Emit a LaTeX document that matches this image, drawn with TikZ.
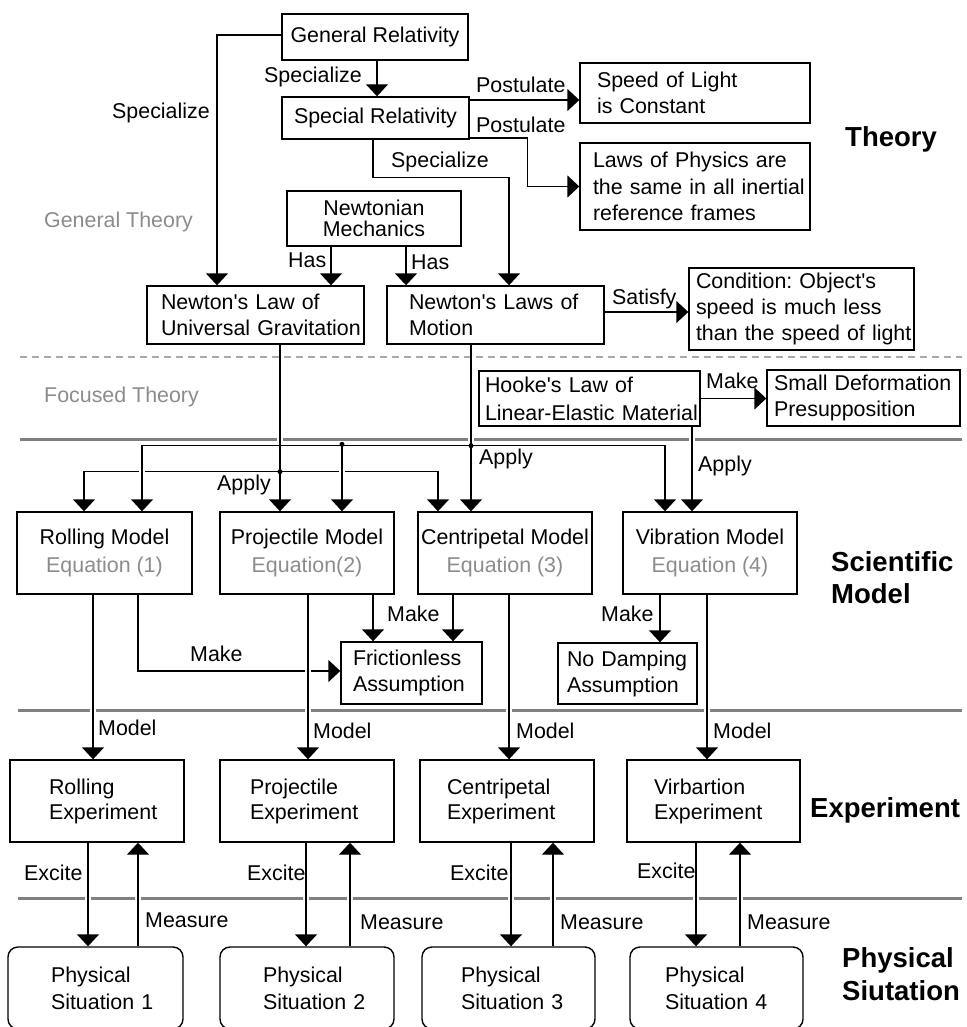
\documentclass[tikz,border=0pt]{standalone}
\usepackage{fontspec}
\setmainfont{Liberation Sans}
\usetikzlibrary{arrows.meta}
\definecolor{sepgray}{RGB}{128,128,128}
\definecolor{dashgray}{RGB}{170,170,170}
\definecolor{txtgray}{RGB}{140,140,140}
\newcommand\ml[1]{\mbox{#1}}
\newcommand\ap{\textquotesingle}
\frenchspacing
\begin{document}
\begin{tikzpicture}[x=1pt,y=-1pt,
  base/.style={font=\fontsize{21.4}{26}\selectfont, inner sep=0pt},
  box/.style={base, draw, line width=1.4pt},
  cbox/.style n args={2}{box, minimum width=#1, minimum height=#2, align=center},
  lbox/.style n args={3}{box, minimum width=#1, minimum height=#2, inner xsep=#3, text width=#1-2*#3, align=left},
  psbox/.style n args={3}{lbox={#1}{#2}{#3}, rounded corners=10pt},
  lbl/.style={base, anchor=west},
  glbl/.style={lbl, text=txtgray},
  tlbl/.style={anchor=west, inner sep=0pt, align=left, font=\fontsize{27.5}{32}\selectfont\bfseries},
  arr/.style={line width=1.4pt, -{Triangle[width=22pt,length=12pt]}},
  gap/.style={white, line width=6pt},
  sep/.style={sepgray, line width=3pt}
]
\fill[white] (0,0) rectangle (966,1027);
\useasboundingbox (0,0) rectangle (966,1027);

% ---------- boxes ----------
\node[cbox={186}{46}] (gr) at (375,37) {General Relativity};
\node[cbox={187}{42}] (sr) at (375.5,118) {Special Relativity};
\node[lbox={230}{60}{17}] (sol) at (695,93) {\ml{Speed of Light}\\\ml{is Constant}};
\node[lbox={230}{87}{13}, font=\fontsize{21.4}{26.5}\selectfont] (lop) at (695,186.5) {\ml{Laws of Physics are}\\\ml{the same in all inertial}\\\ml{reference frames}};
\node[cbox={174}{55}, font=\fontsize{21.4}{20.5}\selectfont] (nm) at (374,218.5) {Newtonian\\Mechanics};
\node[lbox={217}{58}{14}] (nlug) at (255.5,315) {\ml{Newton\ap s Law of}\\\ml{Universal Gravitation}};
\node[lbox={217}{58}{22}] (nlm) at (495.5,315) {\ml{Newton\ap s Laws of}\\\ml{Motion}};
\node[lbox={225}{82}{7}] (cond) at (801.5,309) {\ml{Condition: Object\ap s}\\\ml{speed is much less}\\\ml{than the speed of light}};
\node[lbox={221}{55}{6}, font=\fontsize{21.4}{28}\selectfont] (hooke) at (589.5,398.5) {\ml{Hooke\ap s Law of}\\\ml{Linear-Elastic Material}};
\node[lbox={193}{56}{7}] (sd) at (863.5,398) {\ml{Small Deformation}\\\ml{Presupposition}};

\node[cbox={175}{82}, font=\fontsize{21.4}{28}\selectfont] (rm) at (104.5,553) {Rolling Model\\\textcolor{txtgray}{Equation (1)}};
\node[cbox={174}{82}, font=\fontsize{21.4}{28}\selectfont] (pm) at (307,553) {Projectile Model\\\textcolor{txtgray}{Equation(2)}};
\node[cbox={174}{82}, font=\fontsize{21.4}{28}\selectfont] (cm) at (505,553) {Centripetal Model\\\textcolor{txtgray}{Equation (3)}};
\node[cbox={174}{82}, font=\fontsize{21.4}{28}\selectfont] (vm) at (710,553) {Vibration Model\\\textcolor{txtgray}{Equation (4)}};
\node[lbox={141}{62}{12}] (fric) at (411.5,673) {\ml{Frictionless}\\\ml{Assumption}};
\node[lbox={139}{61}{9}] (nd) at (627.5,673.5) {\ml{No Damping}\\\ml{Assumption}};

\node[lbox={174}{82}{39}, font=\fontsize{21.4}{25}\selectfont] (re) at (97,801) {\ml{Rolling}\\\ml{Experiment}};
\node[lbox={174}{82}{30}, font=\fontsize{21.4}{25}\selectfont] (pe) at (307,801) {\ml{Projectile}\\\ml{Experiment}};
\node[lbox={174}{82}{27}, font=\fontsize{21.4}{25}\selectfont] (ce) at (507,801) {\ml{Centripetal}\\\ml{Experiment}};
\node[lbox={173}{82}{27}, font=\fontsize{21.4}{25}\selectfont] (ve) at (713.5,801) {\ml{Virbartion}\\\ml{Experiment}};

\node[psbox={175}{82}{43}, font=\fontsize{21.4}{27}\selectfont] (ps1) at (95.5,988) {\ml{Physical}\\\ml{Situation 1}};
\node[psbox={174}{82}{43}, font=\fontsize{21.4}{27}\selectfont] (ps2) at (307,988) {\ml{Physical}\\\ml{Situation 2}};
\node[psbox={173}{82}{39}, font=\fontsize{21.4}{27}\selectfont] (ps3) at (508.5,988) {\ml{Physical}\\\ml{Situation 3}};
\node[psbox={173}{82}{35}, font=\fontsize{21.4}{27}\selectfont] (ps4) at (716.5,988) {\ml{Physical}\\\ml{Situation 4}};

% ---------- side titles ----------
\node[tlbl] (tTheory) at (845,139) {Theory};
\node[tlbl] (tModel) at (831,578) {Scientific\\Model};
\node[tlbl] (tExp) at (810,810) {Experiment};
\node[tlbl, font=\fontsize{27.5}{33}\selectfont\bfseries] (tPhys) at (842,974) {Physical\\Siutation};
\node[glbl] (gGen) at (44,222) {General Theory};
\node[glbl] (gFoc) at (44,397) {Focused Theory};

% ---------- separators ----------
\draw[dashgray, line width=1.5pt, dash pattern=on 7pt off 5pt] (20,357) -- (962,357);
\draw[sep] (20,439) -- (962,439);
\draw[sep] (18,710) -- (962,710);
\draw[sep] (18,898) -- (962,898);

% ---------- connectors crossed by others ----------
\draw[arr] ([xshift=24.5pt]nlug.south) -- ++(0,127) -| ([xshift=-20.5pt]rm.north);
\draw[arr] ([xshift=24.5pt]nlug.south) -- ++(0,127) -| ([xshift=-67pt]cm.north);
\draw[arr] ([xshift=33.5pt]rm.south) |- ([yshift=2pt]fric.west);

% crossing gaps
\foreach \x/\y in {280/439, 471/439, 692/439, 142/471, 342/471, 308/671,
  93/710, 308/710, 509/710, 707/710,
  88/898, 138/898, 306/898, 350/898, 511/898, 553/898, 696/898, 740/898}
  \draw[gap] (\x,\y-3) -- (\x,\y+3);

% ---------- theory connectors ----------
\draw[arr] ([xshift=2pt]gr.south) -- ([xshift=2pt]gr.south |- sr.north);
\draw[arr] ([yshift=2pt]gr.west) -| ([xshift=-38.5pt]nlug.north);
\draw[arr] ([xshift=-2.5pt]sr.south) -- ++(0,38) -| ([xshift=13.5pt]nlm.north);
\draw[arr] ([yshift=18pt]sr.east) -- ([yshift=18pt]sr.east -| sol.west);
\draw[arr] ([yshift=-20pt]sr.east) -- ++(58,0) |- (lop.west);
\draw[arr] ([xshift=-43pt]nm.south) -- ([xshift=-43pt]nm.south |- nlug.north);
\draw[arr] ([xshift=32pt]nm.south) -- ([xshift=32pt]nm.south |- nlm.north);
\draw[arr] ([yshift=3pt]nlm.east) -- ([yshift=3pt]nlm.east -| cond.west);
\draw[arr] (hooke.east) -- (hooke.east -| sd.west);
\draw[arr] ([xshift=102.5pt]hooke.south) -- ([xshift=102.5pt]hooke.south |- vm.north);

% apply connectors
\draw[arr] ([xshift=24.5pt]nlug.south) -- ([xshift=24.5pt]nlug.south |- pm.north);
\draw[arr] ([xshift=-24.5pt]nlm.south) -- ([xshift=-24.5pt]nlm.south |- cm.north);
\draw[arr] ([xshift=-24.5pt]nlm.south) -- ++(0,101) -| ([xshift=37.5pt]rm.north);
\draw[arr] ([xshift=-24.5pt]nlm.south) -- ++(0,101) -| ([xshift=35pt]pm.north);
\draw[arr] ([xshift=-24.5pt]nlm.south) -- ++(0,101) -| ([xshift=-45pt]vm.north);
\fill ([xshift=24.5pt,yshift=-127pt]nlug.south) circle (2.5pt);
\fill ([xshift=-24.5pt,yshift=-101pt]nlm.south) circle (2.5pt);
\fill ([xshift=35pt,yshift=67pt]pm.north) circle (2.5pt);

% make connectors
\draw[arr] ([xshift=66pt]pm.south) -- ([xshift=66pt]pm.south |- fric.north);
\draw[arr] ([xshift=-52pt]cm.south) -- ([xshift=-52pt]cm.south |- fric.north);
\draw[arr] ([xshift=-50pt]vm.south) -- ([xshift=-50pt]vm.south |- nd.north);

% model connectors
\draw[arr] ([xshift=-11.5pt]rm.south) -- ([xshift=-11.5pt]rm.south |- re.north);
\draw[arr] ([xshift=1pt]pm.south) -- ([xshift=1pt]pm.south |- pe.north);
\draw[arr] ([xshift=4pt]cm.south) -- ([xshift=4pt]cm.south |- ce.north);
\draw[arr] ([xshift=-3pt]vm.south) -- ([xshift=-3pt]vm.south |- ve.north);

% excite / measure
\draw[arr] ([xshift=-9pt]re.south) -- ([xshift=-9pt]re.south |- ps1.north);
\draw[arr] ([xshift=41pt]re.south |- ps1.north) -- ([xshift=41pt]re.south);
\draw[arr] ([xshift=-1pt]pe.south) -- ([xshift=-1pt]pe.south |- ps2.north);
\draw[arr] ([xshift=43pt]pe.south |- ps2.north) -- ([xshift=43pt]pe.south);
\draw[arr] ([xshift=4pt]ce.south) -- ([xshift=4pt]ce.south |- ps3.north);
\draw[arr] ([xshift=46pt]ce.south |- ps3.north) -- ([xshift=46pt]ce.south);
\draw[arr] ([xshift=-17.5pt]ve.south) -- ([xshift=-17.5pt]ve.south |- ps4.north);
\draw[arr] ([xshift=26.5pt]ve.south |- ps4.north) -- ([xshift=26.5pt]ve.south);

% ---------- connector labels ----------
\node[lbl] (lSpec1) at (264,77) {Specialize};
\node[lbl] (lSpec2) at (112,113) {Specialize};
\node[lbl] (lSpec3) at (391,162) {Specialize};
\node[lbl] (lPost1) at (476,85) {Postulate};
\node[lbl] (lPost2) at (476,125) {Postulate};
\node[lbl] (lHas1) at (288,260) {Has};
\node[lbl] (lHas2) at (411,262) {Has};
\node[lbl] (lSat) at (612,299) {Satisfy};
\node[lbl] (lMakeH) at (706,381) {Make};
\node[lbl] (lApp1) at (217,485) {Apply};
\node[lbl] (lApp2) at (479,459) {Apply};
\node[lbl] (lApp3) at (698,466) {Apply};
\node[lbl] (lMakeP) at (387,614) {Make};
\node[lbl] (lMakeR) at (190,654) {Make};
\node[lbl] (lMakeV) at (601,614) {Make};
\node[lbl] (lMod1) at (98,728) {Model};
\node[lbl] (lMod2) at (313,731) {Model};
\node[lbl] (lMod3) at (516,731) {Model};
\node[lbl] (lMod4) at (713,731) {Model};
\node[lbl] (lEx1) at (24,873) {Excite};
\node[lbl] (lEx2) at (247,873) {Excite};
\node[lbl] (lEx3) at (450,873) {Excite};
\node[lbl] (lEx4) at (637,871) {Excite};
\node[lbl] (lMe1) at (145,920) {Measure};
\node[lbl] (lMe2) at (360,922) {Measure};
\node[lbl] (lMe3) at (560,922) {Measure};
\node[lbl] (lMe4) at (747,922) {Measure};
\end{tikzpicture}
\end{document}
